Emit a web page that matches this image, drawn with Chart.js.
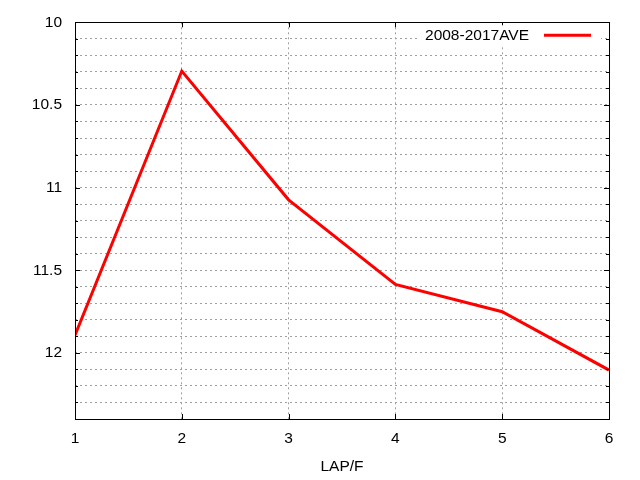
<!DOCTYPE html>
<html>
<head>
<meta charset="utf-8">
<script src="https://cdn.jsdelivr.net/npm/chart.js@4"></script>
<style>
  html, body { margin: 0; padding: 0; background: #fff; }
  #wrap { width: 640px; height: 480px; }
</style>
</head>
<body>
<div id="wrap"><canvas id="lapChart" width="640" height="480"></canvas></div>
<script>
// data
var laps = [1, 2, 3, 4, 5, 6];
var aveTimes = [11.893, 10.295, 11.074, 11.586, 11.751, 12.104];
var seriesName = '2008-2017AVE';
var xTicks = [1, 2, 3, 4, 5, 6];
var yTickLabels = [10, 10.5, 11, 11.5, 12];

var FONT = 'Liberation Sans, Arial, sans-serif';

function isMajorY(v) {
  return yTickLabels.some(function (t) { return Math.abs(t - v) < 1e-6; });
}

// gnuplot-like frame, inward ticks and legend box
var framePlugin = {
  id: 'frame',
  afterDatasetsDraw: function (chart) {
    var ctx = chart.ctx, a = chart.chartArea;
    var xs = chart.scales.x, ys = chart.scales.y;
    ctx.save();
    ctx.strokeStyle = '#000';
    ctx.lineWidth = 1;
    ctx.setLineDash([]);
    ctx.beginPath();
    ys.ticks.forEach(function (t) {
      var py = Math.round(ys.getPixelForValue(t.value)) + 0.5;
      var len = isMajorY(t.value) ? 5 : 3;
      ctx.moveTo(a.left, py); ctx.lineTo(a.left + len, py);
      ctx.moveTo(a.right, py); ctx.lineTo(a.right - len, py);
    });
    xs.ticks.forEach(function (t) {
      var px = Math.round(xs.getPixelForValue(t.value)) + 0.5;
      ctx.moveTo(px, a.bottom); ctx.lineTo(px, a.bottom - 5);
      ctx.moveTo(px, a.top); ctx.lineTo(px, a.top + 5);
    });
    ctx.stroke();
    ctx.strokeRect(Math.round(a.left) + 0.5, Math.round(a.top) + 0.5,
      Math.round(a.right - a.left), Math.round(a.bottom - a.top));

    // legend
    ctx.font = '15.5px ' + FONT;
    var tw = ctx.measureText(seriesName).width;
    var lineR = a.right - 18, lineL = lineR - 47;
    var textR = lineL - 15;
    var ly = a.top + 13;
    ctx.fillStyle = '#fff';
    ctx.fillRect(textR - tw - 6, ly - 10, a.right - 8 - (textR - tw - 6), 20);
    ctx.fillStyle = '#000';
    ctx.textAlign = 'right';
    ctx.textBaseline = 'middle';
    ctx.fillText(seriesName, textR, ly);
    ctx.strokeStyle = '#ff0000';
    ctx.lineWidth = 3;
    ctx.beginPath();
    ctx.moveTo(lineL, ly); ctx.lineTo(lineR, ly);
    ctx.stroke();
    ctx.restore();
  }
};

var ctx = document.getElementById('lapChart').getContext('2d');
var chart = new Chart(ctx, {
  type: 'line',
  data: {
    datasets: [{
      label: seriesName,
      data: laps.map(function (x, i) { return { x: x, y: aveTimes[i] }; }),
      borderColor: '#ff0000',
      borderWidth: 3,
      pointRadius: 0,
      tension: 0,
      fill: false
    }]
  },
  options: {
    responsive: false,
    animation: false,
    devicePixelRatio: 1,
    layout: { padding: { left: 0, right: 31, top: 19, bottom: 0 } },
    plugins: {
      legend: { display: false },
      tooltip: { enabled: false }
    },
    scales: {
      x: {
        type: 'linear',
        min: 1,
        max: 6,
        afterBuildTicks: function (s) {
          s.ticks = xTicks.map(function (v) { return { value: v }; });
        },
        afterFit: function (s) { s.height = 61; },
        grid: { color: '#a0a0a0', lineWidth: 1, drawTicks: false },
        border: { display: false, dash: [2, 3] },
        ticks: {
          padding: 10,
          color: '#000',
          font: { family: FONT, size: 15.5 },
          maxRotation: 0,
          autoSkip: false
        },
        title: {
          display: true,
          text: 'LAP/F',
          color: '#000',
          font: { family: FONT, size: 15.5 },
          padding: { top: 0, bottom: 4 }
        }
      },
      y: {
        type: 'linear',
        reverse: true,
        min: 10,
        max: 12.4,
        afterFit: function (s) { s.width = 75; },
        grid: { color: '#a0a0a0', lineWidth: 1, drawTicks: false },
        border: { display: false, dash: [2, 3] },
        ticks: {
          stepSize: 0.1,
          autoSkip: false,
          padding: 13,
          color: '#000',
          font: { family: FONT, size: 15.5 },
          callback: function (v) {
            return isMajorY(v) ? String(Math.round(v * 10) / 10) : '';
          }
        }
      }
    }
  },
  plugins: [framePlugin]
});
</script>
</body>
</html>
